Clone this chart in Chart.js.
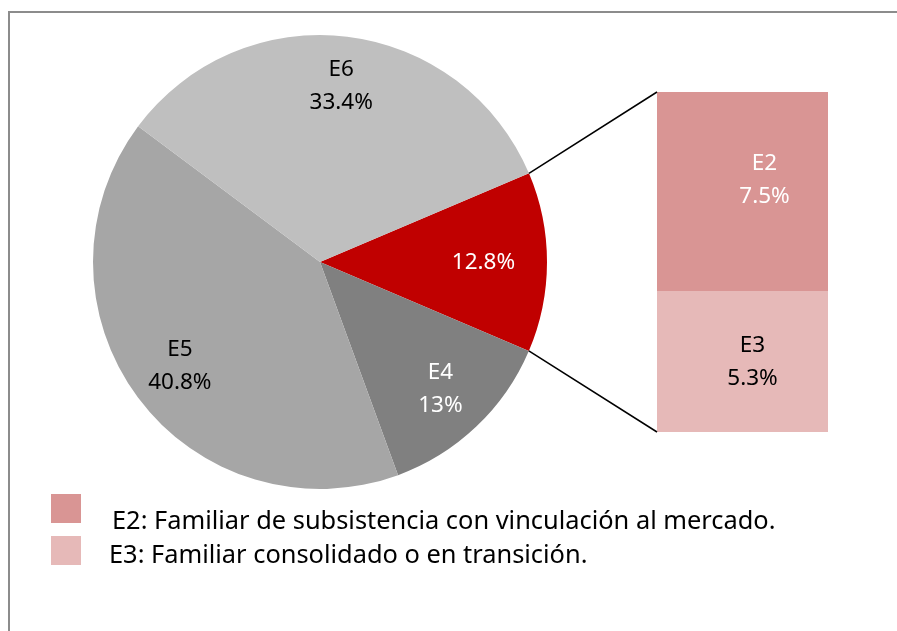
<!DOCTYPE html>
<html>
<head>
<meta charset="utf-8">
<script src="https://cdn.jsdelivr.net/npm/chart.js@4.4.1/dist/chart.umd.min.js"></script>
<style>
  html, body { margin:0; padding:0; background:#fff; width:897px; height:631px; overflow:hidden; font-family:"Noto Sans", sans-serif; }
  #frame { position:absolute; left:8px; top:11px; width:1000px; height:1000px; border-left:2px solid #8c8c8c; border-top:2px solid #8c8c8c; }
  canvas { position:absolute; left:0; top:0; }
  .sw { position:absolute; width:30px; height:29px; }
  .lt { position:absolute; font-size:25.4px; color:#000; white-space:nowrap; line-height:1; }
</style>
</head>
<body>
<div id="frame"></div>
<canvas id="pie" width="897" height="631"></canvas>
<canvas id="bar" width="897" height="631"></canvas>
<div id="legend"></div>
<script>
// ---- data ----
const pieCategories = ['E2+E3', 'E4', 'E5', 'E6'];
const pieValues = [12.8, 13, 40.8, 33.4];
const pieNames = ['', 'E4', 'E5', 'E6'];
const pieColors = ['#C00000', '#808080', '#A6A6A6', '#BFBFBF'];
const pieTextColors = ['#ffffff', '#ffffff', '#000000', '#000000'];

const barCategories = ['E3', 'E2'];
const barValues = [5.3, 7.5];
const barColors = ['#E6B9B8', '#D99594'];
const barTextColors = ['#000000', '#ffffff'];

const legendTexts = ['E2: Familiar de subsistencia con vinculación al mercado.', 'E3: Familiar consolidado o en transición.'];
const legendColors = ['#D99594', '#E6B9B8'];

const FONT = '22.5px "Noto Sans", sans-serif';
const LINE = 33;

function drawLines(ctx, lines, x, y, color) {
  ctx.save();
  ctx.font = FONT;
  ctx.fillStyle = color;
  ctx.textAlign = 'center';
  ctx.textBaseline = 'middle';
  const n = lines.length;
  lines.forEach((t, i) => ctx.fillText(t, x, y + (i - (n - 1) / 2) * LINE));
  ctx.restore();
}

const pieLabelPlugin = {
  id: 'pieLabels',
  afterDatasetsDraw(chart) {
    const ctx = chart.ctx;
    const fr = [0.72, 0.77, 0.77, 0.78];
    chart.getDatasetMeta(0).data.forEach((arc, i) => {
      const p = arc.getProps(['x', 'y', 'startAngle', 'endAngle', 'outerRadius'], true);
      const mid = (p.startAngle + p.endAngle) / 2;
      const r = p.outerRadius * fr[i];
      const lx = p.x + Math.cos(mid) * r;
      const ly = p.y + Math.sin(mid) * r;
      const lines = pieNames[i] ? [pieNames[i], pieValues[i] + '%'] : [pieValues[i] + '%'];
      drawLines(ctx, lines, lx, ly, pieTextColors[i]);
    });
  }
};

const pieChart = new Chart(document.getElementById('pie'), {
  type: 'pie',
  data: {
    labels: pieCategories,
    datasets: [{ data: pieValues, backgroundColor: pieColors, borderWidth: 0 }]
  },
  options: {
    responsive: false,
    animation: false,
    rotation: 67,
    layout: { padding: { left: 93, right: 350, top: 35, bottom: 142 } },
    plugins: { legend: { display: false }, tooltip: { enabled: false } }
  },
  plugins: [pieLabelPlugin]
});

const barPlugin = {
  id: 'barExtras',
  afterDatasetsDraw(chart) {
    const ctx = chart.ctx;
    // connector lines from the red slice to the stacked bar
    const arc = pieChart.getDatasetMeta(0).data[0];
    const p = arc.getProps(['x', 'y', 'startAngle', 'endAngle', 'outerRadius'], true);
    const top = chart.getDatasetMeta(1).data[0];
    const bot = chart.getDatasetMeta(0).data[0];
    const tp = top.getProps(['x', 'y', 'base', 'width'], true);
    const bp = bot.getProps(['x', 'y', 'base', 'width'], true);
    const left = tp.x - tp.width / 2;
    ctx.save();
    ctx.strokeStyle = '#000';
    ctx.lineWidth = 1.5;
    ctx.beginPath();
    ctx.moveTo(p.x + Math.cos(p.startAngle) * p.outerRadius, p.y + Math.sin(p.startAngle) * p.outerRadius);
    ctx.lineTo(left, tp.y);
    ctx.moveTo(p.x + Math.cos(p.endAngle) * p.outerRadius, p.y + Math.sin(p.endAngle) * p.outerRadius);
    ctx.lineTo(left, bp.base);
    ctx.stroke();
    ctx.restore();
    // labels inside bar segments
    const offs = [[10, 0], [22, -12]];
    chart.data.datasets.forEach((ds, i) => {
      const el = chart.getDatasetMeta(i).data[0];
      const e = el.getProps(['x', 'y', 'base'], true);
      const cy = (e.y + e.base) / 2;
      drawLines(ctx, [barCategories[i], barValues[i] + '%'], e.x + offs[i][0], cy + offs[i][1], barTextColors[i]);
    });
  }
};

new Chart(document.getElementById('bar'), {
  type: 'bar',
  data: {
    labels: ['E2+E3'],
    datasets: barCategories.map((c, i) => ({
      label: c, data: [barValues[i]], backgroundColor: barColors[i],
      borderWidth: 0, barPercentage: 1, categoryPercentage: 1
    }))
  },
  options: {
    responsive: false,
    animation: false,
    layout: { padding: { left: 657, right: 69, top: 92, bottom: 199 } },
    scales: {
      x: { stacked: true, display: false },
      y: { stacked: true, display: false, min: 0, max: barValues.reduce((a, b) => a + b, 0) }
    },
    plugins: { legend: { display: false }, tooltip: { enabled: false } }
  },
  plugins: [barPlugin]
});

// legend
const lg = document.getElementById('legend');
const swTops = [494, 536];
const txTops = [507, 541];
const txLefts = [112, 109];
legendTexts.forEach((t, i) => {
  const s = document.createElement('div');
  s.className = 'sw';
  s.style.left = '51px';
  s.style.top = swTops[i] + 'px';
  s.style.background = legendColors[i];
  lg.appendChild(s);
  const d = document.createElement('div');
  d.className = 'lt';
  d.style.left = txLefts[i] + 'px';
  d.style.top = txTops[i] + 'px';
  d.textContent = t;
  lg.appendChild(d);
});
</script>
</body>
</html>
